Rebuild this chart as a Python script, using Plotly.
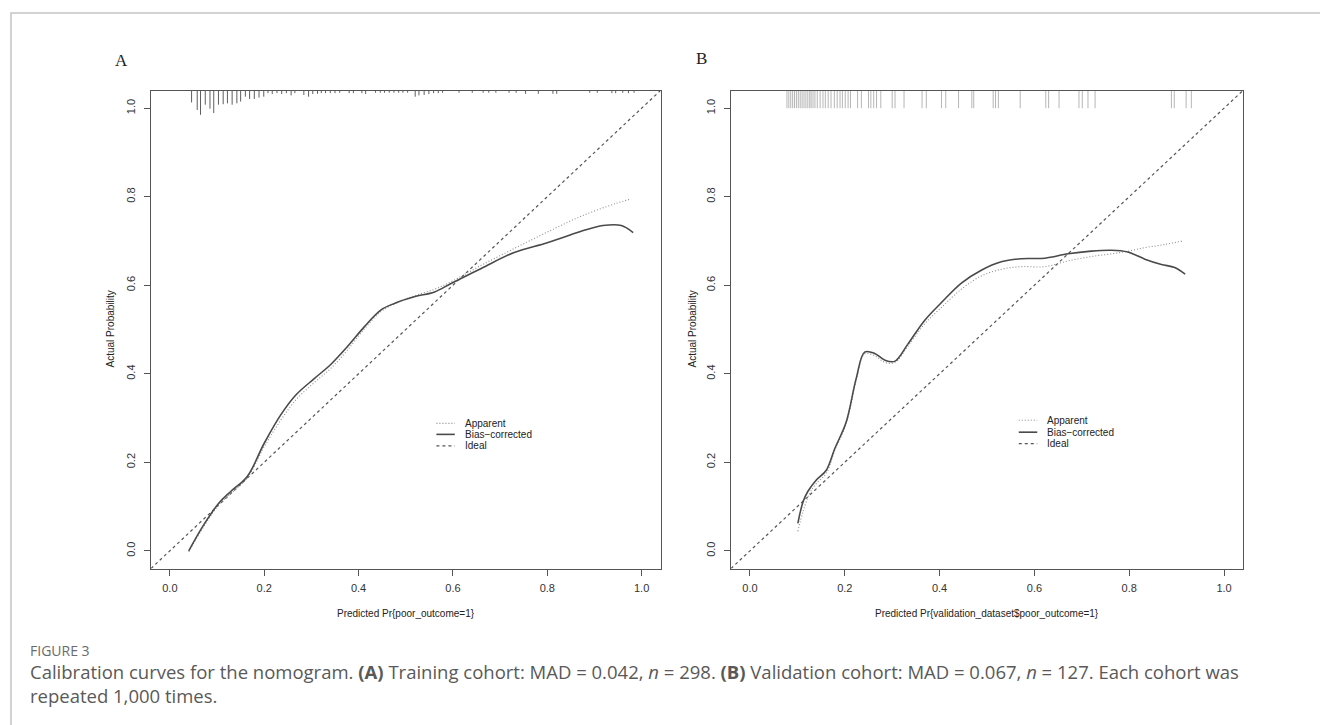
import plotly.graph_objects as go

## --- Data --- ##

# Panel A: training cohort
a_pred = [0.040, 0.072, 0.104, 0.129, 0.164, 0.200, 0.235, 0.267, 0.306, 0.341, 0.376, 0.412,
          0.447, 0.476, 0.518, 0.561, 0.596, 0.660, 0.730, 0.800, 0.872, 0.918, 0.957, 0.982]
a_bias = [0.000, 0.059, 0.108, 0.134, 0.168, 0.243, 0.307, 0.352, 0.389, 0.421, 0.461, 0.506,
          0.544, 0.559, 0.574, 0.585, 0.604, 0.638, 0.674, 0.696, 0.722, 0.735, 0.735, 0.719]

a_app_pred = [0.040, 0.072, 0.104, 0.164, 0.200, 0.235, 0.267, 0.306, 0.341, 0.376, 0.412, 0.447,
              0.483, 0.518, 0.561, 0.596, 0.660, 0.730, 0.800, 0.872, 0.943, 0.978]
a_apparent = [-0.002, 0.055, 0.104, 0.165, 0.235, 0.295, 0.341, 0.380, 0.412, 0.453, 0.501, 0.540,
              0.562, 0.576, 0.591, 0.608, 0.645, 0.683, 0.720, 0.756, 0.784, 0.795]

# Panel B: validation cohort
b_pred = [0.101, 0.112, 0.122, 0.140, 0.161, 0.179, 0.203, 0.224, 0.242, 0.263, 0.284, 0.305, 0.333,
          0.368, 0.404, 0.446, 0.488, 0.530, 0.572, 0.622, 0.671, 0.720, 0.762, 0.797, 0.833, 0.868,
          0.896, 0.918]
b_bias = [0.062, 0.111, 0.134, 0.160, 0.182, 0.231, 0.291, 0.389, 0.449, 0.446, 0.431, 0.428, 0.467,
          0.520, 0.561, 0.605, 0.634, 0.653, 0.660, 0.661, 0.671, 0.677, 0.679, 0.675, 0.659, 0.647,
          0.640, 0.625]

b_app_pred = [0.101, 0.112, 0.126, 0.140, 0.161, 0.179, 0.203, 0.224, 0.242, 0.263, 0.284, 0.305,
              0.333, 0.368, 0.404, 0.446, 0.488, 0.530, 0.572, 0.622, 0.671, 0.727, 0.783, 0.833,
              0.875, 0.913]
b_apparent = [0.044, 0.089, 0.130, 0.152, 0.175, 0.227, 0.287, 0.385, 0.445, 0.441, 0.426, 0.425,
              0.462, 0.512, 0.550, 0.591, 0.621, 0.636, 0.642, 0.642, 0.655, 0.666, 0.674, 0.685,
              0.692, 0.700]

# rug of predicted probabilities (position, relative height)
rug_a_x = [0.046, 0.058, 0.065, 0.075, 0.085, 0.093, 0.103, 0.113, 0.122, 0.132, 0.142, 0.150,
           0.160, 0.169, 0.179, 0.189, 0.199, 0.208, 0.217, 0.227, 0.237, 0.247, 0.257, 0.265,
           0.284, 0.294, 0.303, 0.313, 0.321, 0.330, 0.340, 0.350, 0.360,
           0.380, 0.389, 0.407, 0.415,
           0.436, 0.446, 0.455, 0.465, 0.475, 0.485, 0.494, 0.504,
           0.520, 0.528, 0.539, 0.549, 0.559, 0.569, 0.578,
           0.613, 0.641, 0.664, 0.676, 0.691, 0.719, 0.734, 0.754, 0.781, 0.812, 0.820,
           0.890, 0.906, 0.937, 0.945, 0.960, 0.972, 0.984]
rug_a_len = [0.027, 0.044, 0.055, 0.032, 0.041, 0.051, 0.032, 0.031, 0.029, 0.032, 0.029, 0.025,
             0.014, 0.019, 0.019, 0.016, 0.014, 0.006, 0.008, 0.006, 0.008, 0.006, 0.011, 0.006,
             0.010, 0.014, 0.008, 0.0075, 0.006, 0.006, 0.006, 0.006, 0.005,
             0.006, 0.006, 0.006, 0.008,
             0.005, 0.005, 0.005, 0.005, 0.005, 0.005, 0.005, 0.005,
             0.014, 0.011, 0.010, 0.008, 0.006, 0.006, 0.005,
             0.005, 0.005, 0.005, 0.005, 0.005, 0.005, 0.005, 0.0075, 0.0075, 0.0075, 0.0075,
             0.005, 0.005, 0.006, 0.006, 0.005, 0.006, 0.005]

rug_b_x = [0.078, 0.082, 0.086, 0.090, 0.094, 0.098, 0.102, 0.106, 0.110, 0.114, 0.118, 0.122,
           0.126, 0.129, 0.133, 0.137, 0.142, 0.148, 0.154, 0.159, 0.165, 0.171, 0.178, 0.184,
           0.190, 0.195, 0.201, 0.207, 0.212, 0.227, 0.235, 0.250, 0.255, 0.261, 0.267, 0.276,
           0.300, 0.306, 0.325, 0.363, 0.372, 0.404, 0.413, 0.440, 0.468, 0.472, 0.513, 0.518,
           0.524, 0.570, 0.624, 0.630, 0.652, 0.694, 0.701, 0.713, 0.728, 0.889, 0.895, 0.920, 0.931]
rug_b_len = 0.04

tick_vals = [0.0, 0.2, 0.4, 0.6, 0.8, 1.0]
tick_text = ["0.0", "0.2", "0.4", "0.6", "0.8", "1.0"]
axis_range = [-0.04, 1.04]

legend_labels = ["Apparent", "Bias\u2212corrected", "Ideal"]

## --- Helpers --- ##

W, H = 1328, 725

def px_x(p):
    return p / W

def px_y(p):
    return (H - p) / H

def rug_xy(xs, lens, top):
    if not isinstance(lens, list):
        lens = [lens] * len(xs)
    rx, ry = [], []
    for x, l in zip(xs, lens):
        rx += [x, x, None]
        ry += [top, top - l, None]
    return rx, ry

styles = {
    "Apparent": dict(color="#8c8c8c", width=1.1, dash="1px,2px"),
    "Bias\u2212corrected": dict(color="#4a4a4a", width=1.6, dash="solid"),
    "Ideal": dict(color="#555555", width=1.2, dash="3px,3px"),
}

fig = go.Figure()

panels = [
    ("x", "y", a_app_pred, a_apparent, a_pred, a_bias, rug_a_x, rug_a_len, "#555555", 0.95),
    ("x2", "y2", b_app_pred, b_apparent, b_pred, b_bias, rug_b_x, rug_b_len, "#a3a3a3", 0.8),
]

for xa, ya, ax_, ay_, bx_, by_, rx, rl, rcol, rw in panels:
    # rug at the top of the frame
    rxx, ryy = rug_xy(rx, rl, axis_range[1])
    fig.add_trace(go.Scatter(x=rxx, y=ryy, mode="lines", xaxis=xa, yaxis=ya,
                             line=dict(color=rcol, width=rw), showlegend=False, hoverinfo="skip"))
    # ideal diagonal over the whole frame
    fig.add_trace(go.Scatter(x=axis_range, y=axis_range, mode="lines", xaxis=xa, yaxis=ya,
                             line=styles["Ideal"], showlegend=False))
    fig.add_trace(go.Scatter(x=ax_, y=ay_, mode="lines", xaxis=xa, yaxis=ya,
                             line=styles["Apparent"], line_shape="spline", showlegend=False))
    fig.add_trace(go.Scatter(x=bx_, y=by_, mode="lines", xaxis=xa, yaxis=ya,
                             line=styles["Bias\u2212corrected"], line_shape="spline", showlegend=False))

## --- Axes --- ##
box_top, box_bot = 82.5, 560.5
ydom = [px_y(box_bot), px_y(box_top)]

axis_common = dict(range=axis_range, tickvals=tick_vals, ticktext=tick_text, showgrid=False,
                   zeroline=False, showline=True, mirror=True, linecolor="#555555", linewidth=1.2,
                   ticks="outside", ticklen=6, tickwidth=1, tickcolor="#555555",
                   tickfont=dict(family="Liberation Sans", size=11, color="#333333"))

fig.update_layout(
    xaxis=dict(domain=[px_x(143), px_x(652.5)], anchor="y", ticklabelstandoff=3, **axis_common),
    yaxis=dict(domain=ydom, anchor="x", tickangle=-90, ticklabelstandoff=5, **axis_common),
    xaxis2=dict(domain=[px_x(723), px_x(1235)], anchor="y2", ticklabelstandoff=3, **axis_common),
    yaxis2=dict(domain=ydom, anchor="x2", tickangle=-90, ticklabelstandoff=5, **axis_common),
)

## --- Legends (drawn in each panel) --- ##
legend_pos = [("x", "y", 0.565, 0.604, 0.621, [0.288, 0.263, 0.237]),
              ("x2", "y2", 0.567, 0.606, 0.623, [0.295, 0.268, 0.242])]
shapes, annotations = [], []
for xr, yr, k0, k1, tx, rows in legend_pos:
    for lab, ry in zip(legend_labels, rows):
        shapes.append(dict(type="line", xref=xr, yref=yr, x0=k0, x1=k1, y0=ry, y1=ry,
                           line=styles[lab]))
        annotations.append(dict(text=lab, xref=xr, yref=yr, x=tx, y=ry, xanchor="left",
                                yanchor="middle", showarrow=False,
                                font=dict(family="Liberation Sans", size=10, color="#222222")))

# outer frame of the figure
shapes.append(dict(type="rect", xref="paper", yref="paper", x0=px_x(3), x1=px_x(1326),
                   y0=-0.02, y1=px_y(5), line=dict(color="#c4c4c4", width=1.5)))

## --- Text --- ##
lab_font = dict(family="Liberation Sans", size=10, color="#222222")
annotations += [
    dict(text="A", x=px_x(113), y=px_y(53), font=dict(family="Liberation Serif", size=17, color="#222222")),
    dict(text="B", x=px_x(693), y=px_y(50), font=dict(family="Liberation Serif", size=17, color="#222222")),
    dict(text="Predicted Pr{poor_outcome=1}", x=px_x(398), y=px_y(605), font=lab_font),
    dict(text="Predicted Pr{validation_dataset$poor_outcome=1}", x=px_x(979), y=px_y(605), font=lab_font),
    dict(text="Actual Probability", x=px_x(102), y=px_y(321.5), textangle=-90, font=lab_font),
    dict(text="Actual Probability", x=px_x(684), y=px_y(321.5), textangle=-90, font=lab_font),
    dict(text="FIGURE 3", x=px_x(20), y=px_y(642), xanchor="left",
         font=dict(family="Open Sans", size=14, color="#6b6b6b")),
    dict(text="Calibration curves for the nomogram. <b>(A)</b> Training cohort: MAD = 0.042, <i>n</i> = 298. "
              "<b>(B)</b> Validation cohort: MAD = 0.067, <i>n</i> = 127. Each cohort was<br>"
              "repeated 1,000 times.",
         x=px_x(20), y=px_y(675), xanchor="left", align="left",
         font=dict(family="Open Sans", size=18.5, color="#595959")),
]
for an in annotations:
    an.setdefault("xref", "paper")
    an.setdefault("yref", "paper")
    an.setdefault("xanchor", "center")
    an.setdefault("yanchor", "middle")
    an.setdefault("showarrow", False)

fig.update_layout(
    width=W, height=H,
    margin=dict(l=0, r=0, t=0, b=0),
    paper_bgcolor="white", plot_bgcolor="white",
    showlegend=False,
    shapes=shapes, annotations=annotations,
)

fig.write_html("out.html")
